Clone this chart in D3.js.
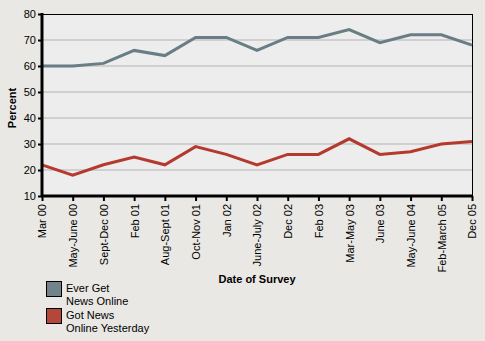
<!DOCTYPE html>
<html><head><meta charset="utf-8">
<script src="https://cdn.jsdelivr.net/npm/d3@7"></script>
<style>body{margin:0;background:#E9E8E4;}svg{display:block;font-family:"Liberation Sans",Arial,sans-serif;}</style>
</head><body><svg id="c" width="485" height="341"></svg>
<script>
const categories = ["Mar 00","May-June 00","Sept-Dec 00","Feb 01","Aug-Sept 01","Oct-Nov 01","Jan 02","June-July 02","Dec 02","Feb 03","Mar-May 03","June 03","May-June 04","Feb-March 05","Dec 05"];
const everGet = [60,60,61,66,64,71,71,66,71,71,74,69,72,72,68];
const gotYesterday = [22,18,22,25,22,29,26,22,26,26,32,26,27,30,31];
const yTicks = [10,20,30,40,50,60,70,80];
const seriesNames = [["Ever Get","News Online"],["Got News","Online Yesterday"]];
const colors = ["#687D84","#B43A2D"];
const swatchColors = ["#728389","#B5473A"];

const svg = d3.select("#c");
const L = 42, R = 472, T = 14, B = 196;
const x = d3.scalePoint().domain(categories).range([L, R]);
const y = d3.scaleLinear().domain([10, 80]).range([B, T]);

svg.append("rect").attr("x", L).attr("y", T).attr("width", R - L).attr("height", B - T).attr("fill", "#EDEDED");
svg.append("g").selectAll("line").data(yTicks.slice(1, -1)).join("line")
  .attr("x1", L).attr("x2", R).attr("y1", d => y(d)).attr("y2", d => y(d))
  .attr("stroke", "#B4B4B4").attr("stroke-width", 1.2);
svg.append("rect").attr("x", L).attr("y", T + 0.5).attr("width", R - L + 0.5).attr("height", B - T - 0.5)
  .attr("fill", "none").attr("stroke", "#000").attr("stroke-width", 1);

const line = d3.line().x((d, i) => x(categories[i])).y(d => y(d));
[everGet, gotYesterday].forEach((s, k) => {
  svg.append("path").datum(s).attr("d", line).attr("fill", "none")
    .attr("stroke", colors[k]).attr("stroke-width", 3).attr("stroke-linejoin", "miter");
});

// axes
const yAxis = svg.append("g").attr("transform", `translate(${L},0)`)
  .call(d3.axisLeft(y).tickValues(yTicks).tickSize(4).tickPadding(2));
yAxis.select(".domain").remove();
yAxis.selectAll("text").attr("font-size", 11).attr("fill", "#000").attr("font-family", "Liberation Sans, Arial, sans-serif");
yAxis.selectAll("line").attr("stroke", "#000").attr("stroke-width", 2);
svg.append("line").attr("x1", L).attr("x2", L).attr("y1", T - 1).attr("y2", B + 1).attr("stroke", "#000").attr("stroke-width", 3);

const xAxis = svg.append("g").attr("transform", `translate(0,${B})`)
  .call(d3.axisBottom(x).tickSize(5).tickPadding(2));
xAxis.select(".domain").remove();
xAxis.selectAll("line").attr("stroke", "#000").attr("stroke-width", 2);
xAxis.selectAll("text").attr("font-size", 11).attr("fill", "#000")
  .attr("font-family", "Liberation Sans, Arial, sans-serif")
  .attr("transform", "rotate(-90)").attr("text-anchor", "end")
  .attr("x", -8).attr("y", 0).attr("dy", "0.35em");
svg.append("line").attr("x1", L - 1).attr("x2", R + 1).attr("y1", B).attr("y2", B).attr("stroke", "#000").attr("stroke-width", 3);

svg.append("text").attr("x", 257).attr("y", 283).attr("text-anchor", "middle")
  .attr("font-size", 11).attr("font-weight", "bold").text("Date of Survey");
svg.append("text").attr("transform", "translate(16,108) rotate(-90)").attr("text-anchor", "middle")
  .attr("font-size", 11).attr("font-weight", "bold").text("Percent");

// legend
const lg = svg.append("g").selectAll("g").data(seriesNames).join("g")
  .attr("transform", (d, i) => `translate(46,${281 + i * 27})`);
lg.append("rect").attr("x", 0.5).attr("y", 0.5).attr("width", 15).attr("height", 15)
  .attr("fill", (d, i) => swatchColors[i]).attr("stroke", "#000").attr("stroke-width", 1);
lg.each(function(d) {
  const t = d3.select(this).append("text").attr("x", 20).attr("y", 11).attr("font-size", 11).attr("fill", "#000");
  d.forEach((s, j) => t.append("tspan").attr("x", 20).attr("dy", j ? 13 : 0).text(s));
});
</script></body></html>
